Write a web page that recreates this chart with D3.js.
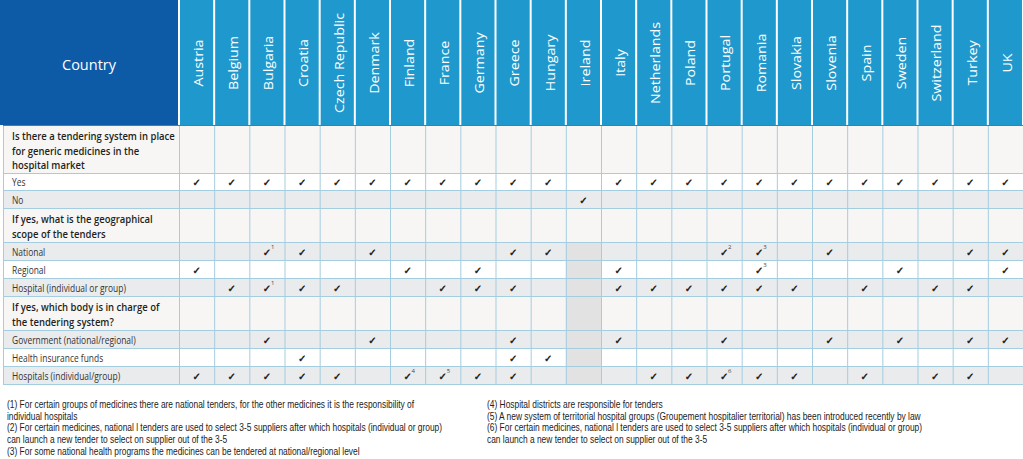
<!DOCTYPE html>
<html><head><meta charset="utf-8">
<script src="https://cdn.jsdelivr.net/npm/d3@7"></script>
<style>body{margin:0;background:#fff} svg{display:block}</style>
</head><body><svg id="c" width="1023" height="459"></svg>
<script>
const countries = ["Austria","Belgium","Bulgaria","Croatia","Czech Republic","Denmark","Finland","France","Germany","Greece","Hungary","Ireland","Italy","Netherlands","Poland","Portugal","Romania","Slovakia","Slovenia","Spain","Sweden","Switzerland","Turkey","UK"];
const rowLabels = [
  "Is there a tendering system in place|for generic medicines in the|hospital market",
  "Yes","No",
  "If yes, what is the geographical|scope of the tenders",
  "National","Regional","Hospital (individual or group)",
  "If yes, which body is in charge of|the tendering system?",
  "Government (national/regional)","Health insurance funds","Hospitals (individual/group)"];
const rowKinds = ["q","opt","opt","q","opt","opt","opt","q","opt","opt","opt"];
const checksYes = ["Austria","Belgium","Bulgaria","Croatia","Czech Republic","Denmark","Finland","France","Germany","Greece","Hungary","Italy","Netherlands","Poland","Portugal","Romania","Slovakia","Slovenia","Spain","Sweden","Switzerland","Turkey","UK"];
const checksNo = ["Ireland"];
const checksNational = ["Bulgaria","Croatia","Denmark","Greece","Hungary","Portugal","Romania","Slovenia","Turkey","UK"];
const checksRegional = ["Austria","Finland","Germany","Italy","Romania","Sweden","UK"];
const checksHospital = ["Belgium","Bulgaria","Croatia","Czech Republic","France","Germany","Greece","Italy","Netherlands","Poland","Portugal","Romania","Slovakia","Spain","Switzerland","Turkey"];
const checksGovernment = ["Bulgaria","Denmark","Greece","Italy","Portugal","Slovenia","Sweden","Turkey","UK"];
const checksInsurance = ["Croatia","Greece","Hungary"];
const checksHospitals = ["Austria","Belgium","Bulgaria","Croatia","Czech Republic","Finland","France","Germany","Greece","Netherlands","Poland","Portugal","Romania","Slovakia","Spain","Switzerland","Turkey"];
const rowChecks = [[],checksYes,checksNo,[],checksNational,checksRegional,checksHospital,[],checksGovernment,checksInsurance,checksHospitals];
const noteRows = ["National","Hospital (individual or group)","National","National","Regional","Hospitals (individual/group)","Hospitals (individual/group)","Hospitals (individual/group)"];
const noteCountries = ["Bulgaria","Bulgaria","Portugal","Romania","Romania","Finland","France","Portugal"];
const noteNumbers = ["1","1","2","3","3","4","5","6"];
const footLeft = [
  "(1) For certain groups of medicines there are national tenders, for the other medicines it is the responsibility of",
  "individual hospitals",
  "(2) For certain medicines, national l tenders are used to select 3-5 suppliers after which hospitals (individual or group)",
  "can launch a new tender to select on supplier out of the 3-5",
  "(3) For some national health programs the medicines can be tendered at national/regional level"];
const footRight = [
  "(4) Hospital districts are responsible for tenders",
  "(5) A new system of territorial hospital groups (Groupement hospitalier territorial) has been introduced recently by law",
  "(6) For certain medicines, national l tenders are used to select 3-5 suppliers after which hospitals (individual or group)",
  "can launch a new tender to select on supplier out of the 3-5"];

// layout
const W = 1023, tableX = 3, labelW = 179, headerH = 125;
const rowH = [48,17,18,34,18,18,18,34,18,18,18];
const svg = d3.select("#c");
const x = d3.scaleBand().domain(countries).range([labelW, W]).padding(0);
const rowTop = []; let acc = headerH; rowH.forEach(h => { rowTop.push(acc); acc += h; });
const tableBottom = acc;
const rowIndex = label => rowLabels.indexOf(label);
const bgFor = (i) => rowKinds[i] === "q" ? "#f7f6f5" : (["Yes","Regional","Health insurance funds"].includes(rowLabels[i]) ? "#ffffff" : "#e9ebed");

function factorFor(text, font, size, weight, target){
  const t = svg.append("text").attr("font-family",font).attr("font-size",size).attr("font-weight",weight).text(text);
  const w = t.node().getComputedTextLength(); t.remove(); return target/w;
}

// header
svg.append("rect").attr("x",0).attr("y",0).attr("width",labelW-1).attr("height",headerH).attr("fill","#0d5aa7");
svg.append("text").attr("x",89).attr("y",64).attr("text-anchor","middle").attr("dominant-baseline","central")
  .attr("font-family","Open Sans").attr("font-size",14.5).attr("fill","#fff").text("Country");
svg.selectAll("rect.hd").data(countries).join("rect").attr("class","hd")
  .attr("x",d=>x(d)+1).attr("y",0).attr("width",x.bandwidth()-2).attr("height",headerH).attr("fill","#1f99cd");
const kH = factorFor("Czech Republic","Open Sans",13.5,400,100);
svg.selectAll("text.hd").data(countries).join("text").attr("class","hd")
  .attr("transform",d=>`translate(${x(d)+x.bandwidth()/2+1},63) rotate(-90) scale(${kH},1)`)
  .attr("text-anchor","middle").attr("dominant-baseline","central")
  .attr("font-family","Open Sans").attr("font-size",13.5).attr("fill","#fff").text(d=>d);

// row backgrounds
svg.selectAll("rect.row").data(rowLabels).join("rect").attr("class","row")
  .attr("x",tableX).attr("y",(d,i)=>rowTop[i]).attr("width",W-tableX).attr("height",(d,i)=>rowH[i]).attr("fill",(d,i)=>bgFor(i));
// Ireland shading
const shadeFrom = rowIndex("National");
svg.append("rect").attr("x",x("Ireland")).attr("y",rowTop[shadeFrom]).attr("width",x.bandwidth())
  .attr("height",tableBottom-rowTop[shadeFrom]).attr("fill","#e2e2e3");

// grid lines
const grid = svg.append("g").attr("stroke","#a5cde0").attr("stroke-width",1);
rowTop.slice(1).concat([tableBottom]).forEach(y => grid.append("line").attr("x1",tableX).attr("x2",W).attr("y1",y+0.5).attr("y2",y+0.5));
countries.forEach(c => grid.append("line").attr("x1",x(c)+0.5).attr("x2",x(c)+0.5).attr("y1",headerH).attr("y2",tableBottom));
grid.append("line").attr("x1",tableX+0.5).attr("x2",tableX+0.5).attr("y1",headerH).attr("y2",tableBottom);
svg.append("line").attr("x1",tableX).attr("x2",W).attr("y1",headerH+0.5).attr("y2",headerH+0.5).attr("stroke","#2a86bd").attr("stroke-width",1);

// row labels
const kQ = factorFor("Is there a tendering system in place","Open Sans",11.5,600,163);
const kO = factorFor("Hospital (individual or group)","Open Sans",10.5,400,114);
rowLabels.forEach((lab,i) => {
  const lines = lab.split("|");
  if (rowKinds[i] === "q") {
    svg.selectAll(null).data(lines).join("text")
      .attr("transform",(d,j)=>`translate(12,${rowTop[i]+11+j*14.5}) scale(${kQ},1)`).attr("dominant-baseline","central")
      .attr("font-family","Open Sans").attr("font-size",11.5).attr("font-weight",600).attr("fill","#231f20").text(d=>d);
  } else {
    svg.append("text").attr("transform",`translate(12,${rowTop[i]+rowH[i]/2+1}) scale(${kO},1)`).attr("dominant-baseline","central")
      .attr("font-family","Open Sans").attr("font-size",10.5).attr("fill","#333").text(lab);
  }
});

// checks
rowChecks.forEach((list,i) => {
  svg.selectAll(null).data(list).join("text")
    .attr("x",d=>x(d)+x.bandwidth()/2).attr("y",rowTop[i]+rowH[i]/2+1)
    .attr("text-anchor","middle").attr("dominant-baseline","central")
    .attr("font-family","DejaVu Sans").attr("font-size",10).attr("fill","#111")
    .attr("stroke","#111").attr("stroke-width",0.45).text("\u2713");
});
// footnote markers
svg.selectAll("text.note").data(noteNumbers).join("text").attr("class","note")
  .attr("x",(d,i)=>x(noteCountries[i])+x.bandwidth()/2+4)
  .attr("y",(d,i)=>rowTop[rowIndex(noteRows[i])]+rowH[rowIndex(noteRows[i])]/2-2)
  .attr("font-family","Open Sans").attr("font-size",6).attr("fill","#444").text(d=>d);

// footnotes
const fFont = "Liberation Sans", fSize = 10;
const kF = factorFor(footLeft[2],fFont,fSize,400,436);
svg.selectAll("text.fl").data(footLeft).join("text").attr("class","fl")
  .attr("transform",(d,i)=>`translate(7,${405+i*11.6}) scale(${kF},1)`).attr("dominant-baseline","central")
  .attr("font-family",fFont).attr("font-size",fSize).attr("fill","#222").text(d=>d);
svg.selectAll("text.fr").data(footRight).join("text").attr("class","fr")
  .attr("transform",(d,i)=>`translate(487,${405+i*11.6}) scale(${kF},1)`).attr("dominant-baseline","central")
  .attr("font-family",fFont).attr("font-size",fSize).attr("fill","#222").text(d=>d);
</script></body></html>
